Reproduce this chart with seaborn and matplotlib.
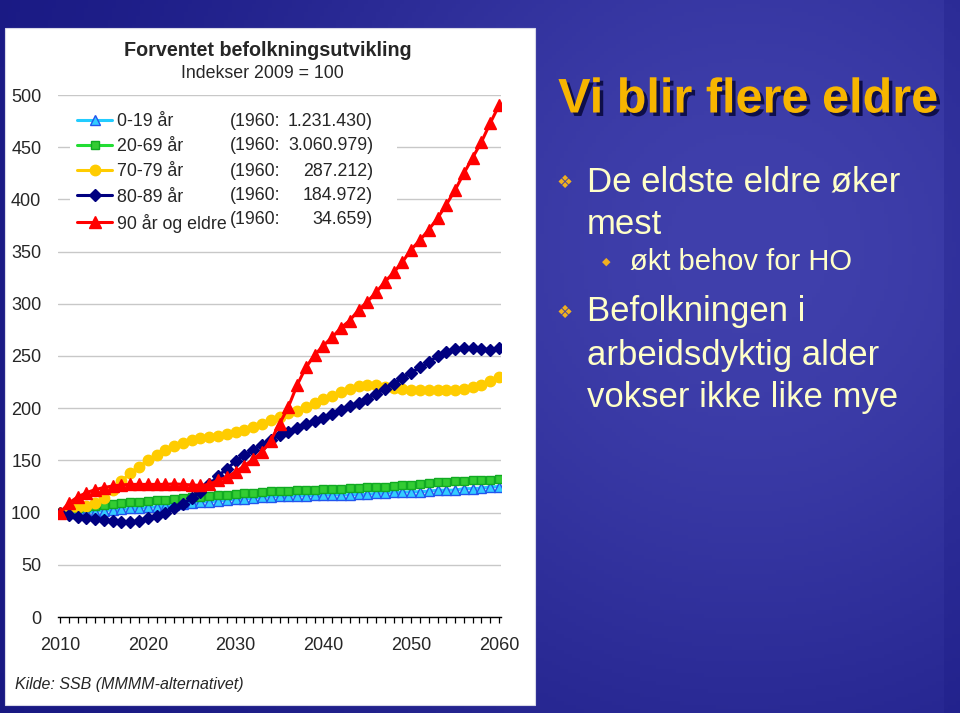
import numpy as np
import pandas as pd
import matplotlib
matplotlib.use("Agg")
import matplotlib.pyplot as plt
import matplotlib.patheffects as pe
from matplotlib.patches import Rectangle
from matplotlib.ticker import MultipleLocator
import seaborn as sns

# data: index 2009 = 100, one value per year 2010..2060
years = list(range(2010, 2061))

age_0_19 = [100, 100, 100, 100.5, 101, 102, 102.5, 103, 104, 104,
            105, 105.5, 106, 107.5, 108.5, 109.5, 110, 110.5, 111, 112,
            113, 113, 114, 114.5, 115, 115.5, 115.5, 116, 116, 116.5,
            116.5, 117, 117, 117, 117.5, 117.5, 118.5, 118.5, 119.5, 119.5,
            120, 120, 120.5, 121.5, 121.5, 121.5, 123, 123, 123.5, 124.5, 125]

age_20_69 = [100, 102, 104, 105, 106.5, 107, 108, 109, 110, 110.5,
             111, 112, 112.5, 113.5, 114, 114.5, 115, 116, 116.5, 117,
             118, 118.5, 119, 119.5, 120.5, 120.5, 121, 121.5, 121.5, 122,
             122.5, 122.5, 123, 123.5, 124, 124.5, 124.5, 125, 125.5, 126,
             126, 127, 128, 129, 129.5, 130, 130.5, 131, 131, 131.5, 132.5]

age_70_79 = [100, 103, 105, 106, 109, 114, 122, 130, 138, 144,
             150, 155, 160, 164, 167, 169.5, 171, 172.5, 173, 175.5,
             177, 179.5, 182, 185, 189, 192, 195, 197, 201, 205,
             209, 212, 215.5, 218, 221, 222, 222, 220.5, 219, 218,
             217.5, 217.5, 217.5, 217.5, 217.5, 217.5, 218, 220, 222, 226, 230]

age_80_89 = [100, 97.5, 96, 95, 93.5, 92.5, 91.5, 91, 91, 92,
             94.5, 97, 100, 104, 108, 114, 120, 127, 135, 142,
             149, 155, 160, 165, 170, 174, 177, 181, 184.5, 187.5,
             191, 194.5, 198.5, 202, 205, 209, 214, 218.5, 223.5, 229,
             234, 239, 244, 250, 254, 257, 257.5, 257.5, 257, 256, 258]

age_90 = [100, 109, 115, 119, 122, 124, 125.5, 126.5, 127, 127,
          127, 127, 127, 127.5, 127, 126.5, 126, 127, 131, 134,
          139, 145, 151, 158, 169, 185, 201, 222, 239, 251,
          260, 268, 277, 284, 294, 302, 311, 321, 330, 340,
          352, 361, 371, 382, 395, 409, 425, 440, 455, 473, 490]

labels = ["0-19 år", "20-69 år", "70-79 år", "80-89 år", "90 år og eldre"]
pop_1960 = ["1.231.430)", "3.060.979)", "287.212)", "184.972)", "34.659)"]

series = [age_0_19, age_20_69, age_70_79, age_80_89, age_90]
styles = [
    dict(color="#22ccff", marker="^", markersize=6.5, markerfacecolor="#33ccff", markeredgecolor="#2255ee"),
    dict(color="#22dd33", marker="s", markersize=5.5, markerfacecolor="#33cc33", markeredgecolor="#11aa22"),
    dict(color="#ffcc00", marker="o", markersize=7.5, markerfacecolor="#ffcc00", markeredgecolor="#ffcc00"),
    dict(color="#000080", marker="D", markersize=6.5, markerfacecolor="#000080", markeredgecolor="#000080"),
    dict(color="#ff0000", marker="^", markersize=8.5, markerfacecolor="#ff0000", markeredgecolor="#ff0000"),
]

sns.set_theme(style="white")
plt.rcParams['font.family'] = ['Liberation Sans', 'DejaVu Sans']

W, H = 960, 713


def fx(px):
    return px / W


def fy(py):
    return 1 - py / H


fig = plt.figure(figsize=(9.6, 7.13), dpi=100)

# slide background
bg = fig.add_axes([0, 0, 1, 1], zorder=-10)
gx, gy = np.meshgrid(np.linspace(0, 1, 240), np.linspace(0, 1, 180))
f = np.exp(-(((gx - 0.78) / 0.55) ** 2 + ((gy - 0.35) / 0.75) ** 2))
f[:, gx[0] > 0.985] *= 0.75
dark = np.array([22, 22, 128]) / 255
light = np.array([64, 64, 172]) / 255
img = dark + (light - dark) * f[..., None]
bg.imshow(img, aspect="auto", extent=[0, 1, 0, 1])
bg.axis("off")

# white chart panel
fig.patches.append(Rectangle((fx(5), fy(705)), fx(535) - fx(5), fy(28) - fy(705),
                             transform=fig.transFigure, facecolor="white",
                             edgecolor="#d8d8e8", lw=0.8, zorder=-5))

ax = fig.add_axes([fx(58), fy(617), fx(501) - fx(58), fy(95) - fy(617)])
ax.set_facecolor("none")

for vals, lab, st in zip(series, labels, styles):
    sns.lineplot(x=years, y=vals, ax=ax, label=lab, linewidth=2.2,
                 markeredgewidth=1.0, zorder=3, **st)

ax.set_xlim(2009.77, 2060.23)
ax.set_ylim(0, 500)
ax.set_yticks(range(0, 501, 50))
ax.xaxis.set_major_locator(MultipleLocator(10))
ax.xaxis.set_minor_locator(MultipleLocator(1))
ax.set_axisbelow(True)
ax.grid(axis="y", color="#c8c8c8", lw=1)
ax.grid(axis="x", visible=False)
for s in ["top", "right", "left"]:
    ax.spines[s].set_visible(False)
ax.spines["bottom"].set_color("black")
ax.spines["bottom"].set_linewidth(1.0)
ax.tick_params(axis="x", which="both", direction="out", length=4.5, width=0.9,
               color="black", bottom=True, labelsize=13, pad=10)
ax.tick_params(axis="y", length=0, labelsize=13, pad=12)
ax.set_xlabel("")
ax.set_ylabel("")

# white box behind the legend hides the gridlines there
ax.add_patch(Rectangle((fx(70), fy(236)), fx(397) - fx(70), fy(106) - fy(236),
                       transform=fig.transFigure, facecolor="white",
                       edgecolor="none", zorder=1))

leg = ax.legend(loc="upper left", bbox_to_anchor=(fx(77), fy(113)),
                bbox_transform=fig.transFigure, frameon=False, fontsize=12.8,
                handlelength=1.97, handletextpad=0.3, labelspacing=0.46,
                borderpad=0, borderaxespad=0)

rows = [121, 146, 171, 195, 220]
for y, num in zip(rows, pop_1960):
    fig.text(fx(230), fy(y), "(1960:", fontsize=12.8, ha="left", va="center")
    fig.text(fx(373), fy(y), num, fontsize=12.8, ha="right", va="center")

fig.text(fx(268), fy(50), "Forventet befolkningsutvikling", fontsize=14.2,
         fontweight="bold", ha="center", va="center")
fig.text(fx(262), fy(74), "Indekser 2009 = 100", fontsize=12.8,
         ha="center", va="center")
fig.text(fx(15), fy(684), "Kilde: SSB (MMMM-alternativet)", fontsize=11.5,
         style="italic", ha="left", va="center")

# slide text on the right
fig.text(fx(748), fy(100), "Vi blir flere eldre", fontsize=35, fontweight="bold",
         color="#f7b500", ha="center", va="center",
         path_effects=[pe.withSimplePatchShadow(offset=(2.5, -2.5),
                                                shadow_rgbFace="#0a0a40", alpha=0.9)])

txt_col = "#ffffc8"
gold = "#f0b020"
for y in [183, 313]:
    fig.text(fx(565), fy(y), "\u2756", fontsize=13, color=gold, ha="center",
             va="center", family=["DejaVu Sans"])
fig.text(fx(606), fy(262), "\u25c6", fontsize=8, color=gold, ha="center",
         va="center", family=["DejaVu Sans"])

lines = [(587, 182, "De eldste eldre øker", 25),
         (587, 224, "mest", 25),
         (630, 262, "økt behov for HO", 21),
         (587, 312, "Befolkningen i", 25),
         (587, 355, "arbeidsdyktig alder", 25),
         (587, 397, "vokser ikke like mye", 25)]
for x, y, s, size in lines:
    fig.text(fx(x), fy(y), s, fontsize=size, color=txt_col, ha="left", va="center")

fig.savefig("out.png", dpi=100)
